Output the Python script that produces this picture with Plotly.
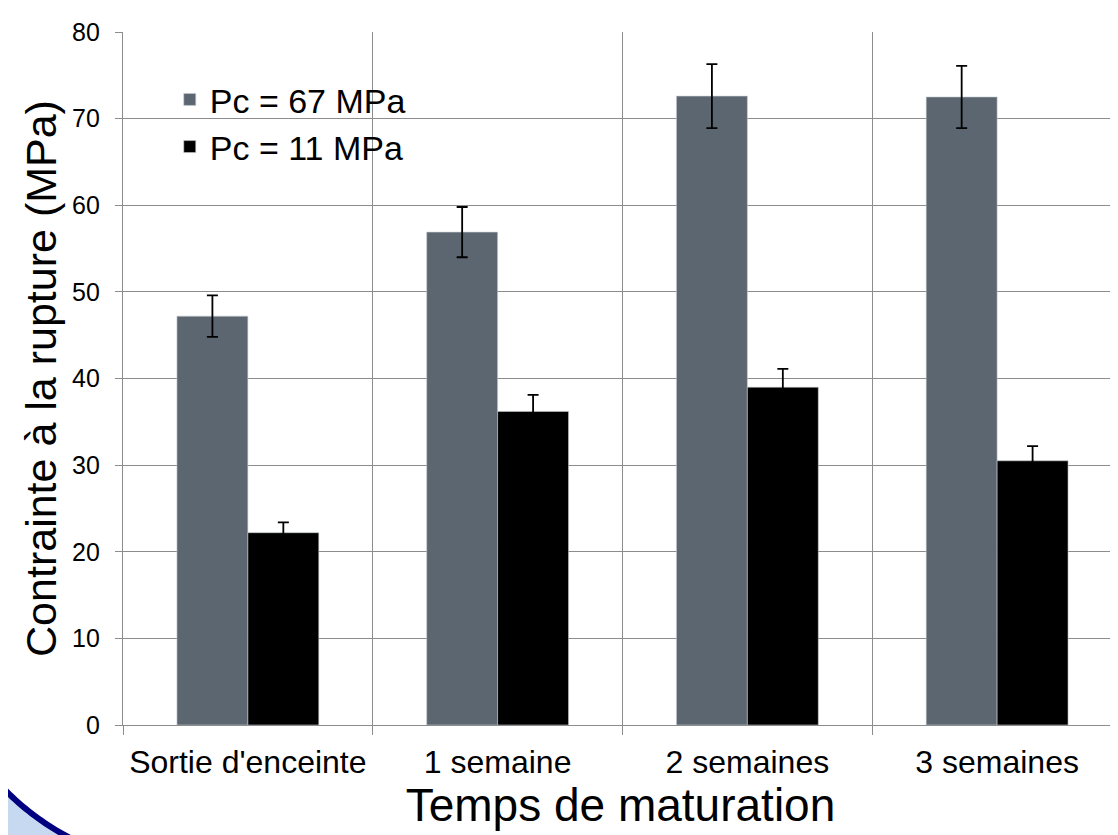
import plotly.graph_objects as go
import numpy as np

categories = ["Sortie d'enceinte", "1 semaine", "2 semaines", "3 semaines"]
pc67 = [47.2, 56.9, 72.6, 72.5]
pc67_err = [2.4, 2.9, 3.7, 3.6]
pc11 = [22.2, 36.2, 39.0, 30.5]
pc11_err = [1.2, 1.9, 2.1, 1.7]
series_names = ["Pc = 67 MPa", "Pc = 11 MPa"]
y_ticks = [0, 10, 20, 30, 40, 50, 60, 70, 80]

OFF = 8  # default page body margin
W, H = 1118 - OFF, 835 - OFF
L, T, R = 123 - OFF, 32 - OFF, 0
B = H - (725 - OFF)
pw, ph = W - L - R, H - T - B

fig = go.Figure()
fig.add_trace(go.Bar(
    x=categories, y=pc67, name=series_names[0],
    marker=dict(color="#5B6670", line=dict(color="#C8CDD2", width=0.6)),
    error_y=dict(type="data", array=pc67_err, color="black", thickness=1.8, width=5.5),
))
fig.add_trace(go.Bar(
    x=categories, y=pc11, name=series_names[1],
    marker=dict(color="#000000", line=dict(color="#C8CDD2", width=0.6)),
    error_y=dict(type="data", array=pc11_err, color="black", thickness=1.8, width=5.5),
))

# decorative slide arc (bottom-left corner), page pixel -> paper coords
def to_paper(px, py):
    return (px - OFF - L) / pw, (H - B - (py - OFF)) / ph

cx, cy, r = 189.0, 609.0, 258.0
angs = np.radians(np.linspace(150, 106, 48))
pts = [to_paper(cx + r * np.cos(a), cy + r * np.sin(a)) for a in angs]
arc = "M " + " L ".join(f"{x:.5f},{y:.5f}" for x, y in pts)
corner = to_paper(-80, 920)
fill_path = arc + f" L {corner[0]:.5f},{corner[1]:.5f} Z"

shapes = [
    dict(type="path", xref="paper", yref="paper", path=fill_path,
         fillcolor="#C6D9F1", line=dict(width=0), layer="above"),
    dict(type="path", xref="paper", yref="paper", path=arc,
         line=dict(color="#000080", width=6), layer="above"),
]

fig.update_layout(
    width=W, height=H, autosize=False,
    margin=dict(l=L, r=R, t=T, b=B, pad=0),
    paper_bgcolor="white", plot_bgcolor="white",
    font=dict(family="Liberation Sans, Arial, sans-serif", color="black"),
    barmode="group", bargap=0.432, bargroupgap=0,
    showlegend=True,
    legend=dict(x=0.047, y=0.944, xanchor="left", yanchor="top",
                font=dict(size=34), bgcolor="rgba(0,0,0,0)",
                tracegroupgap=0, itemwidth=30),
    shapes=shapes,
    xaxis=dict(
        type="category", range=[-0.5, 3.484],
        tickson="boundaries", ticks="outside", ticklen=9, tickcolor="#8C8C8C",
        showgrid=True, gridcolor="#8C8C8C", gridwidth=1.2,
        showline=True, linecolor="#8C8C8C", linewidth=1.2,
        tickfont=dict(size=32), ticklabelstandoff=8,
        title=dict(text="Temps de maturation", font=dict(size=46), standoff=5),
        fixedrange=True,
    ),
    yaxis=dict(
        range=[0, 80], tickvals=y_ticks, ticks="outside", ticklen=7, tickcolor="#8C8C8C",
        showgrid=True, gridcolor="#8C8C8C", gridwidth=1.2,
        showline=True, linecolor="#8C8C8C", linewidth=1.2,
        zeroline=False,
        tickfont=dict(size=25), ticklabelstandoff=10,
        title=dict(text="Contrainte à la rupture (MPa)", font=dict(size=43), standoff=2),
        fixedrange=True,
    ),
)

fig.write_html("out.html")
